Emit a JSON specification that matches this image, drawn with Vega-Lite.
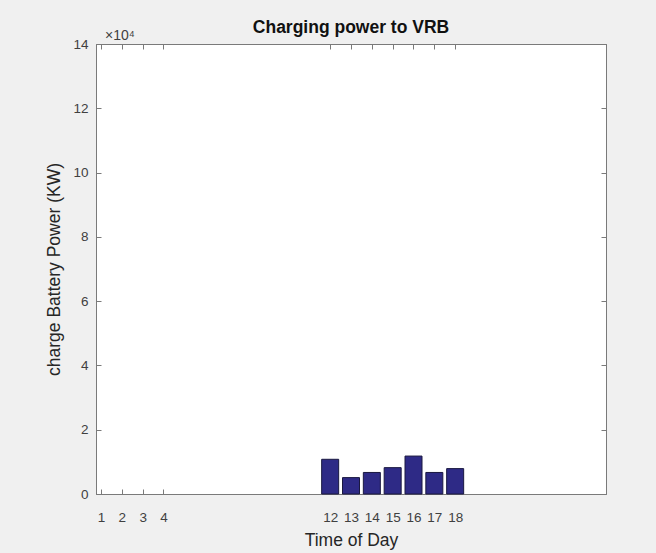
{
  "$schema": "https://vega.github.io/schema/vega-lite/v6.json",
  "width": 510,
  "height": 450,
  "autosize": {"type": "none"},
  "padding": {"left": 96, "top": 44, "right": 50, "bottom": 59},
  "background": "#F0F0F0",
  "config": {
    "view": {"fill": "#FFFFFF", "stroke": "#7A7A7A", "strokeWidth": 1},
    "font": "Liberation Sans",
    "axis": {"grid": false, "domainColor": "#7A7A7A", "tickColor": "#7A7A7A", "labelColor": "#404040", "titleColor": "#262626", "labelFont": "Liberation Sans", "titleFont": "Liberation Sans", "labelFontSize": 13.5, "titleFontSize": 17.5, "titleFontWeight": "normal", "tickSize": -5, "labelFlush": false, "labelOverlap": false}
  },
  "title": {"text": "Charging power to VRB", "fontSize": 17.5, "fontWeight": "bold", "color": "#111111", "font": "Liberation Sans", "offset": -7, "anchor": "middle"},
  "data": {"values": [
    {"hour": 12, "power": 10800},
    {"hour": 13, "power": 5100},
    {"hour": 14, "power": 6700},
    {"hour": 15, "power": 8200},
    {"hour": 16, "power": 11800},
    {"hour": 17, "power": 6700},
    {"hour": 18, "power": 7900}
  ]},
  "layer": [
    {
      "mark": {"type": "bar", "size": 17, "color": "#2E2A86", "stroke": "#1A1840", "strokeWidth": 1},
      "encoding": {
        "x": {"field": "hour", "type": "quantitative", "scale": {"domain": [1, 25], "nice": false, "zero": false},
          "axis": {"orient": "bottom", "values": [1, 2, 3, 4, 12, 13, 14, 15, 16, 17, 18], "title": "Time of Day", "labelPadding": 21, "titlePadding": 8}},
        "y": {"field": "power", "type": "quantitative", "scale": {"domain": [0, 140000], "nice": false},
          "axis": {"orient": "left", "values": [0, 20000, 40000, 60000, 80000, 100000, 120000, 140000], "labelExpr": "datum.value / 10000", "title": "charge Battery Power (KW)", "labelPadding": 13, "titlePadding": 9}}
      }
    },
    {
      "data": {"values": [{"x": 1, "y": 140000, "t": "×10⁴"}]},
      "mark": {"type": "text", "align": "left", "baseline": "bottom", "dx": 4, "dy": -1, "fontSize": 14, "color": "#404040", "font": "Liberation Sans"},
      "encoding": {
        "x": {"field": "x", "type": "quantitative", "axis": {"orient": "top", "values": [1, 2, 3, 4, 12, 13, 14, 15, 16, 17, 18], "labels": false, "title": null}},
        "y": {"field": "y", "type": "quantitative", "axis": {"orient": "right", "values": [0, 20000, 40000, 60000, 80000, 100000, 120000, 140000], "labels": false, "title": null}},
        "text": {"field": "t"}
      }
    }
  ],
  "resolve": {"axis": {"x": "independent", "y": "independent"}}
}
